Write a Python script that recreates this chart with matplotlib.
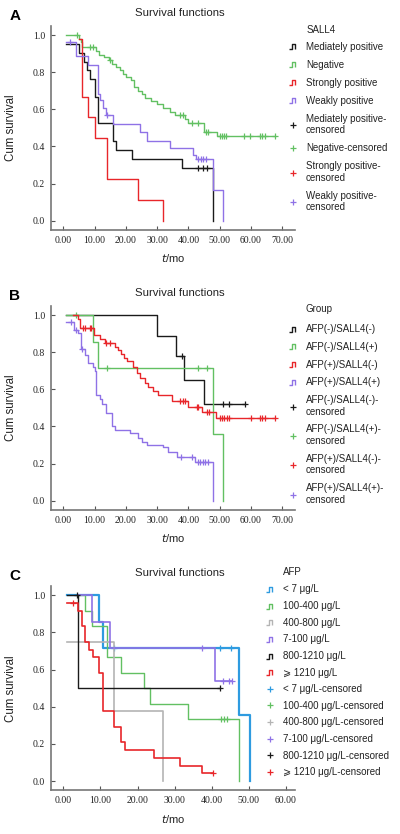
import numpy as np
import matplotlib
matplotlib.use('Agg')
import matplotlib.pyplot as plt
from matplotlib.lines import Line2D
from matplotlib.path import Path
from matplotlib.ticker import FormatStrFormatter

plt.rcParams['font.family'] = ['Liberation Sans', 'DejaVu Sans', 'Noto Sans CJK JP']

# ---- panel A : SALL4 ----
a_labels = ['Mediately positive', 'Negative', 'Strongly positive', 'Weakly positive']
a_cens = ['Mediately positive-\ncensored', 'Negative-censored',
          'Strongly positive-\ncensored', 'Weakly positive-\ncensored']
a_mp_t = [1, 5, 6.5, 7.5, 8.5, 10.2, 11, 16, 17, 22, 38, 48]
a_mp_s = [0.952, 0.905, 0.857, 0.810, 0.762, 0.667, 0.524, 0.429, 0.381, 0.333, 0.286, 0.0]
a_mp_c = [43, 44.5, 46]
a_neg_t = [1, 5, 5.5, 6, 10.5, 11.5, 13, 14.5, 15.5, 17, 18, 19, 20, 21.5, 22.5, 24, 25, 26,
           28, 30, 32, 34, 35.6, 38.8, 40, 45, 49]
a_neg_s = [1.0, 0.98, 0.96, 0.935, 0.915, 0.895, 0.88, 0.865, 0.845, 0.83, 0.81, 0.79, 0.775,
           0.76, 0.72, 0.70, 0.68, 0.66, 0.645, 0.63, 0.605, 0.585, 0.57, 0.55, 0.525, 0.48, 0.455]
a_neg_c = [4.3, 8.5, 9.4, 15, 37.3, 38.3, 41, 42.9, 45.6, 46.4, 50, 50.6, 51.3, 52, 57.8, 59.6,
           62.8, 63.6, 64.4, 67.7]
a_sp_t = [5, 6, 8, 10, 14, 24, 32]
a_sp_s = [0.98, 0.667, 0.556, 0.444, 0.222, 0.111, 0.0]
a_sp_c = []
a_wp_t = [1, 4, 7.8, 11, 11.7, 12.8, 13.8, 16, 24.5, 26.8, 34, 41.5, 42.3, 48, 51]
a_wp_s = [0.964, 0.885, 0.84, 0.68, 0.65, 0.605, 0.57, 0.52, 0.476, 0.43, 0.39, 0.355, 0.33,
          0.165, 0.0]
a_wp_c = [2, 14, 43.1, 43.9, 44.7, 45.5]

# ---- panel B : AFP / SALL4 group ----
b_labels = ['AFP(-)/SALL4(-)', 'AFP(-)/SALL4(+)', 'AFP(+)/SALL4(-)', 'AFP(+)/SALL4(+)']
b_cens = [l + '-\ncensored' for l in b_labels]
b_nn_t = [1, 30, 36, 38.7, 45]
b_nn_s = [1.0, 0.889, 0.778, 0.648, 0.519]
b_nn_c = [37.8, 51, 53, 58]
b_np_t = [1, 9.6, 11, 48, 51]
b_np_s = [1.0, 0.857, 0.714, 0.357, 0.0]
b_np_c = [4, 14, 43, 46]
b_pn_t = [3, 4.8, 5.3, 9.9, 11.7, 13.3, 16.5, 17.6, 18.5, 19.5, 20.5, 22.4, 23.5, 24.5, 26, 27,
          28.8, 30.3, 34.6, 40, 44.2, 48.8]
b_pn_s = [1.0, 0.98, 0.93, 0.895, 0.87, 0.85, 0.83, 0.81, 0.79, 0.77, 0.75, 0.72, 0.69, 0.66,
          0.635, 0.61, 0.59, 0.57, 0.535, 0.505, 0.48, 0.443]
b_pn_c = [6.4, 7.0, 8.5, 9.0, 13.8, 14.9, 37.3, 38.3, 39.0, 42.6, 43.1, 45.8, 46.6, 50, 50.6,
          51.4, 52.2, 53, 60, 62.8, 63.6, 64.4, 67.6]
b_pp_t = [0.8, 3.4, 4.8, 5.6, 7.0, 8.0, 9.5, 10, 10.6, 11.6, 12.5, 13.8, 15.5, 16.5, 21.3, 24,
          25, 26.6, 32, 33.5, 36.2, 42, 47.8]
b_pp_s = [0.962, 0.92, 0.905, 0.815, 0.785, 0.74, 0.72, 0.70, 0.57, 0.55, 0.52, 0.47, 0.40,
          0.38, 0.363, 0.336, 0.318, 0.30, 0.29, 0.264, 0.235, 0.21, 0.0]
b_pp_c = [2.4, 4, 5.9, 37.5, 41, 43, 43.7, 44.5, 45.3, 46.1]

# ---- panel C : AFP level ----
c_labels = ['< 7 \u03bcg/L', '100-400 \u03bcg/L', '400-800 \u03bcg/L', '7-100 \u03bcg/L',
            '800-1210 \u03bcg/L', '\u2a7e 1210 \u03bcg/L']
c_cens = [l + '-censored' for l in c_labels]
c_lt7_t = [1, 9.7, 10.8, 47.3, 50.2]
c_lt7_s = [1.0, 0.857, 0.714, 0.357, 0.0]
c_lt7_c = [13.7, 42.3, 45.2]
c_100_t = [4, 5.9, 7.7, 11.7, 15.6, 21.6, 23.4, 33.5, 47.3]
c_100_s = [1.0, 0.917, 0.833, 0.667, 0.583, 0.5, 0.417, 0.333, 0.0]
c_100_c = [42.5, 43.3, 44.1]
c_400_t = [1, 13.7, 26.8]
c_400_s = [0.75, 0.375, 0.0]
c_400_c = []
c_7_t = [4, 7.7, 12.6, 41]
c_7_s = [1.0, 0.857, 0.714, 0.536]
c_7_c = [37.4, 43, 44.6, 45.5]
c_800_t = [1, 4]
c_800_s = [1.0, 0.5]
c_800_c = [3.7, 42.3]
c_1210_t = [1, 4, 5, 5.9, 7, 7.9, 9.7, 10.6, 13.7, 15.6, 16.7, 24.3, 31.5, 37.4]
c_1210_s = [0.958, 0.917, 0.833, 0.75, 0.708, 0.667, 0.583, 0.375, 0.292, 0.208, 0.167, 0.125,
            0.083, 0.042]
c_1210_c = [2.5, 40.4]

BLACK = '#1a1a1a'
GREEN = '#62c062'
RED = '#e8262a'
PURPLE = '#8f72e6'
BLUE = '#2e9be0'
GRAY = '#b4b4b4'
TXT = '#222222'

# little step-shaped legend icon
step_icon = Path([(-1.0, -0.6), (-0.35, -0.6), (-0.35, 0.6), (0.5, 0.6), (0.5, -0.6)],
                 [Path.MOVETO, Path.LINETO, Path.LINETO, Path.LINETO, Path.LINETO])


def surv_at(t, s, c):
    idx = np.searchsorted(np.asarray(t), np.asarray(c), side='right') - 1
    return np.asarray(s)[idx]


def km(ax, t, s, c, color, lw=1.0):
    tt, ss = list(t), list(s)
    if len(c) and max(c) > tt[-1]:
        tt.append(max(c))
        ss.append(ss[-1])
    ax.step(tt, ss, where='post', color=color, lw=lw)
    if len(c):
        ax.plot(c, surv_at(t, s, c), ls='none', marker='+', ms=5, mew=0.9, color=color)


fig = plt.figure(figsize=(4.0, 8.34), dpi=100)


def panel(bottom, letter, curves, colors, labels, cens, head, xmax, xlim, leg, head_xy,
          spacing, lws=None):
    ax = fig.add_axes([0.127, bottom, 0.61, 0.2445])
    if lws is None:
        lws = [1.0] * len(curves)
    for (t, s, c), col, lw in zip(curves, colors, lws):
        km(ax, t, s, c, col, lw)
    ax.set_xlim(*xlim)
    ax.set_ylim(-0.05, 1.048)
    ax.set_xticks(np.arange(0, xmax + 1, 10))
    ax.set_yticks(np.arange(0, 1.01, 0.2))
    ax.xaxis.set_major_formatter(FormatStrFormatter('%.2f'))
    ax.yaxis.set_major_formatter(FormatStrFormatter('%.1f'))
    for sp in ['top', 'right']:
        ax.spines[sp].set_visible(False)
    for sp in ['left', 'bottom']:
        ax.spines[sp].set_color('#777777')
        ax.spines[sp].set_linewidth(1.2)
    ax.tick_params(direction='in', length=3, width=0.8, color='#555555', labelsize=7, pad=4,
                   labelcolor=TXT)
    for lab in ax.get_xticklabels() + ax.get_yticklabels():
        lab.set_fontfamily('Liberation Serif')
    ax.set_ylabel('Cum survival', fontsize=8.3, color=TXT)
    ax.yaxis.set_label_coords(-0.137, 0.5)
    ax.set_xlabel(r'$\it{t}$/mo', fontsize=8, color=TXT)
    ax.xaxis.set_label_coords(0.5, -0.11)

    top_px = (1 - bottom - 0.2445) * 834
    fig.text(180 / 400, 1 - (top_px - 13) / 834, 'Survival functions', fontsize=8.2,
             ha='center', va='center', color=TXT)
    fig.text(15 / 400, 1 - (top_px - 10) / 834, letter, fontsize=11, fontweight='bold',
             fontfamily='Liberation Sans', ha='center', va='center')

    handles = [Line2D([], [], color=c, marker=step_icon, ls='none', ms=6, mew=1.0,
                      mfc='none') for c in colors]
    handles += [Line2D([], [], color=c, marker='+', ls='none', ms=5, mew=0.9) for c in colors]
    fig.text(head_xy[0] / 400, 1 - head_xy[1] / 834, head, fontsize=7, ha='left', va='center',
             color=TXT)
    lg = fig.legend(handles, labels + cens, loc='upper left',
                    bbox_to_anchor=(leg[0] / 400, 1 - leg[1] / 834), frameon=False,
                    fontsize=7, borderpad=0, borderaxespad=0, handlelength=1.4,
                    handletextpad=0.6, labelspacing=spacing)
    for txt in lg.get_texts():
        txt.set_color(TXT)
    return ax


panel(1 - 230 / 834, 'A',
      [(a_mp_t, a_mp_s, a_mp_c), (a_neg_t, a_neg_s, a_neg_c),
       (a_sp_t, a_sp_s, a_sp_c), (a_wp_t, a_wp_s, a_wp_c)],
      [BLACK, GREEN, RED, PURPLE], a_labels, a_cens, 'SALL4', 70, (-4, 74),
      (286.6, 41.8), (306.5, 30), 0.82)

panel(1 - 510 / 834, 'B',
      [(b_nn_t, b_nn_s, b_nn_c), (b_np_t, b_np_s, b_np_c),
       (b_pn_t, b_pn_s, b_pn_c), (b_pp_t, b_pp_s, b_pp_c)],
      [BLACK, GREEN, RED, PURPLE], b_labels, b_cens, 'Group', 70, (-4, 74),
      (286.6, 324), (306, 309), 0.8)

panel(1 - 790.3 / 834, 'C',
      [(c_lt7_t, c_lt7_s, c_lt7_c), (c_100_t, c_100_s, c_100_c),
       (c_400_t, c_400_s, c_400_c), (c_7_t, c_7_s, c_7_c),
       (c_800_t, c_800_s, c_800_c), (c_1210_t, c_1210_s, c_1210_c)],
      [BLUE, GREEN, GRAY, PURPLE, BLACK, RED], c_labels, c_cens, 'AFP', 60, (-3.4, 62.4),
      (263.3, 584.5), (283, 571.7), 0.68, lws=[1.6, 1.0, 1.2, 1.2, 1.0, 1.2])

fig.savefig('out.png', dpi=100)
